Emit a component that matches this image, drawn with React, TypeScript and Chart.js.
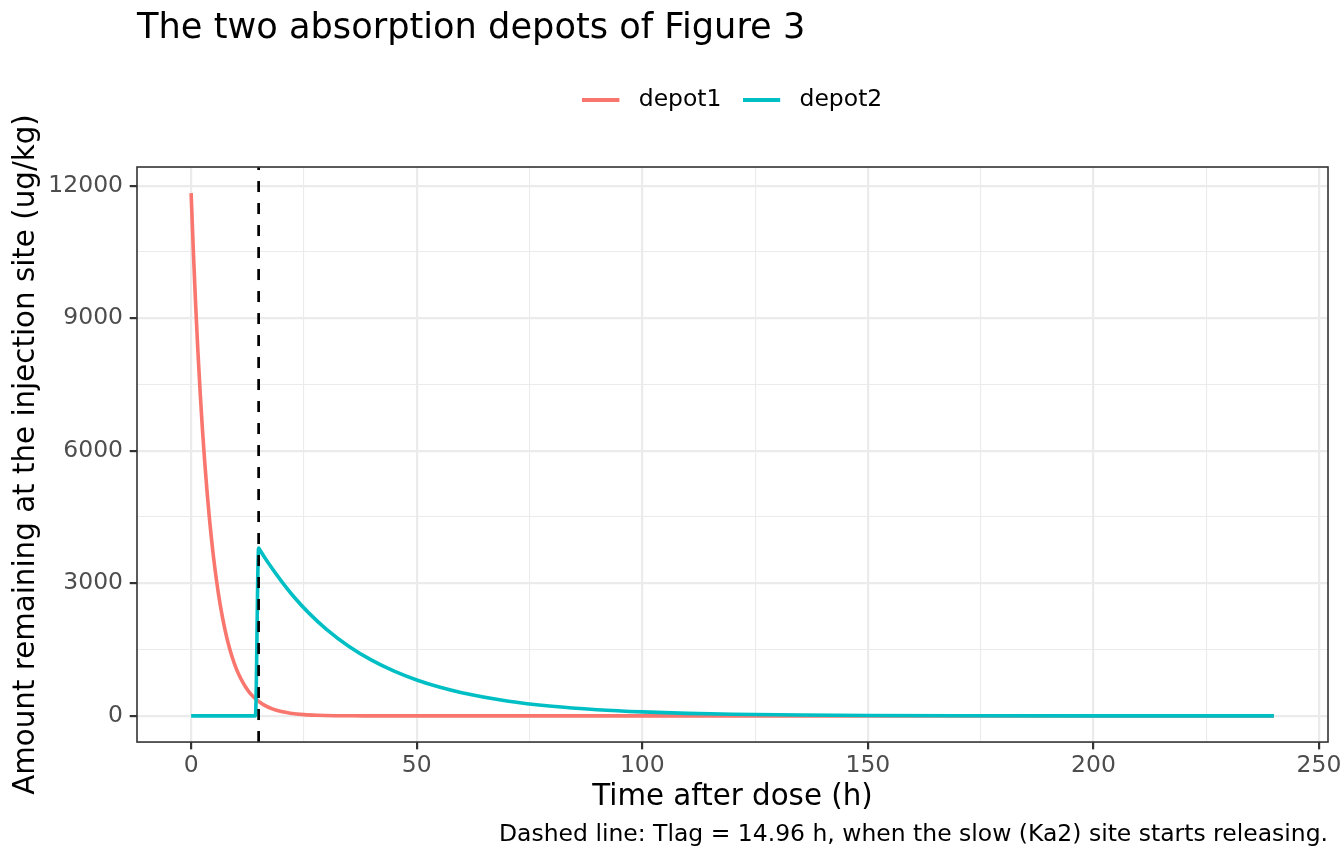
import { useEffect, useRef } from "react";
import { Chart, registerables } from "chart.js";

Chart.register(...registerables);

// time (h) and amount left in each depot (ug/kg)
const depot1Times = [0, 0.5, 1, 1.5, 2, 2.5, 3, 3.5, 4, 5, 6, 7, 8, 9, 10, 11, 12, 13, 14, 15, 16, 18, 20, 22, 25, 28, 32, 36, 40, 50, 60, 80, 120, 160, 200, 240];
const depot1Values = [11830, 10490, 9300, 8250, 7320, 6490, 5760, 5110, 4530, 3560, 2800, 2200, 1730, 1360, 1070, 845, 665, 520, 410, 325, 255, 158, 97, 60, 29, 14, 5, 2, 1, 0, 0, 0, 0, 0, 0, 0];

const depot2Times = [0, 14.25, 14.96, 15, 17, 20, 23, 26, 30, 35, 40, 45, 50, 55, 60, 70, 80, 90, 100, 110, 120, 135, 150, 170, 200, 240];
const depot2Values = [0, 0, 3800, 3793, 3475, 3050, 2667, 2337, 1960, 1573, 1262, 1013, 813, 652, 524, 337, 217, 140, 90, 58, 37, 19, 10, 4, 1, 0];

const tlagHours = 14.96;

const xTicks = [0, 25, 50, 75, 100, 125, 150, 175, 200, 225, 250];
const yTicks = [0, 1500, 3000, 4500, 6000, 7500, 9000, 10500, 12000];
const xRange = [-12, 252];
const yRange = [-591.5, 12421.5];

const FONT = "'DejaVu Sans', sans-serif";
const RED = "#F8766D";
const TEAL = "#00BFC4";

// legend key: a short thick line with some empty room after it
function keyImage(color: string) {
  const c = document.createElement("canvas");
  c.width = 45;
  c.height = 4;
  const g = c.getContext("2d");
  if (g) {
    g.fillStyle = color;
    g.fillRect(0, 0, 37, 4);
  }
  return c;
}

const panelBorder = {
  id: "panelBorder",
  afterDatasetsDraw(chart: any) {
    const { ctx, chartArea: a } = chart;
    ctx.save();
    ctx.strokeStyle = "#333333";
    ctx.lineWidth = 1.6;
    ctx.strokeRect(a.left, a.top, a.right - a.left, a.bottom - a.top);
    ctx.restore();
  },
};

export default function App() {
  const chartRef = useRef<HTMLCanvasElement>(null);

  useEffect(() => {
    if (!chartRef.current) return;

    const chart = new Chart(chartRef.current, {
      type: "line",
      data: {
        datasets: [
          {
            label: "depot1",
            data: depot1Times.map((t, i) => ({ x: t, y: depot1Values[i] })),
            borderColor: RED,
            backgroundColor: RED,
            borderWidth: 3.6,
            pointRadius: 0,
            pointStyle: keyImage(RED),
            cubicInterpolationMode: "monotone",
            order: 3,
            xAxisID: "x",
            yAxisID: "y",
          },
          {
            label: "depot2",
            data: depot2Times.map((t, i) => ({ x: t, y: depot2Values[i] })),
            borderColor: TEAL,
            backgroundColor: TEAL,
            borderWidth: 3.6,
            pointRadius: 0,
            pointStyle: keyImage(TEAL),
            cubicInterpolationMode: "monotone",
            order: 2,
            xAxisID: "x",
            yAxisID: "y",
          },
          {
            label: "Tlag",
            data: [
              { x: tlagHours, y: yRange[0] },
              { x: tlagHours, y: yRange[1] },
            ],
            borderColor: "#000000",
            borderWidth: 2.7,
            borderDash: [11, 11],
            pointRadius: 0,
            order: 1,
            xAxisID: "x",
            yAxisID: "y",
          },
        ],
      },
      options: {
        animation: false,
        responsive: true,
        maintainAspectRatio: false,
        layout: { padding: { left: 0, right: 14, top: 0, bottom: 0 } },
        plugins: {
          title: {
            display: true,
            text: "The two absorption depots of Figure 3",
            align: "start",
            fullSize: false,
            color: "#000000",
            font: { family: FONT, size: 35.2, weight: "normal" },
            padding: { top: 8.2, bottom: 16.1 },
          },
          legend: {
            display: true,
            position: "top",
            align: "center",
            fullSize: false,
            labels: {
              usePointStyle: true,
              pointStyleWidth: 44.3,
              padding: 22,
              color: "#000000",
              font: { family: FONT, size: 23.47 },
              filter: (item: any) => item.datasetIndex < 2,
              sort: (a: any, b: any) => a.datasetIndex - b.datasetIndex,
            },
          },
          subtitle: {
            display: true,
            position: "bottom",
            align: "end",
            fullSize: false,
            text: "Dashed line: Tlag = 14.96 h, when the slow (Ka2) site starts releasing.",
            color: "#000000",
            font: { family: FONT, size: 23.47, weight: "normal" },
            padding: { top: 0, bottom: 15.2 },
          },
          tooltip: { enabled: false },
        },
        scales: {
          x: {
            type: "linear",
            position: "bottom",
            min: xRange[0],
            max: xRange[1],
            afterBuildTicks: (axis: any) => {
              axis.ticks = xTicks.map((value) => ({ value }));
            },
            afterFit: (axis: any) => {
              axis.height = 78.6;
            },
            grid: {
              color: "#EBEBEB",
              lineWidth: (ctx: any) => (ctx.tick && ctx.tick.value % 50 === 0 ? 2.2 : 1.1),
              drawTicks: true,
              tickLength: 7.3,
              tickWidth: 2.2,
              tickColor: (ctx: any) => (ctx.tick && ctx.tick.value % 50 === 0 ? "#333333" : "rgba(0,0,0,0)"),
            },
            border: { display: false },
            ticks: {
              autoSkip: false,
              maxRotation: 0,
              padding: 2.5,
              color: "#4D4D4D",
              font: { family: FONT, size: 23.47 },
              callback: (v: any) => (Number(v) % 50 === 0 ? String(v) : ""),
            },
            title: {
              display: true,
              text: "Time after dose (h)",
              color: "#000000",
              font: { family: FONT, size: 29.33 },
              padding: { top: 0, bottom: 5.9 },
            },
          },
          y: {
            type: "linear",
            position: "left",
            min: yRange[0],
            max: yRange[1],
            afterBuildTicks: (axis: any) => {
              axis.ticks = yTicks.map((value) => ({ value }));
            },
            afterFit: (axis: any) => {
              axis.width = 137;
            },
            grid: {
              color: "#EBEBEB",
              lineWidth: (ctx: any) => (ctx.tick && ctx.tick.value % 3000 === 0 ? 2.2 : 1.1),
              drawTicks: true,
              tickLength: 7.3,
              tickWidth: 2.2,
              tickColor: (ctx: any) => (ctx.tick && ctx.tick.value % 3000 === 0 ? "#333333" : "rgba(0,0,0,0)"),
            },
            border: { display: false },
            ticks: {
              autoSkip: false,
              padding: 6.7,
              color: "#4D4D4D",
              font: { family: FONT, size: 23.47 },
              callback: (v: any) => (Number(v) % 3000 === 0 ? String(v) : ""),
            },
            title: {
              display: true,
              text: "Amount remaining at the injection site (ug/kg)",
              color: "#000000",
              font: { family: FONT, size: 29.33 },
              padding: { top: 9, bottom: 0 },
            },
          },
          // empty band between the legend and the panel
          spacer: {
            type: "linear",
            position: "top",
            display: true,
            grid: { display: false, drawTicks: false },
            border: { display: false },
            ticks: { display: false },
            afterFit: (axis: any) => {
              axis.height = 45;
            },
          },
        },
      } as any,
      plugins: [panelBorder],
    });

    return () => {
      chart.destroy();
    };
  }, []);

  return (
    <div style={{ position: "fixed", left: 0, top: 0, width: 1344, height: 864, background: "#ffffff" }}>
      <canvas ref={chartRef}></canvas>
    </div>
  );
}
